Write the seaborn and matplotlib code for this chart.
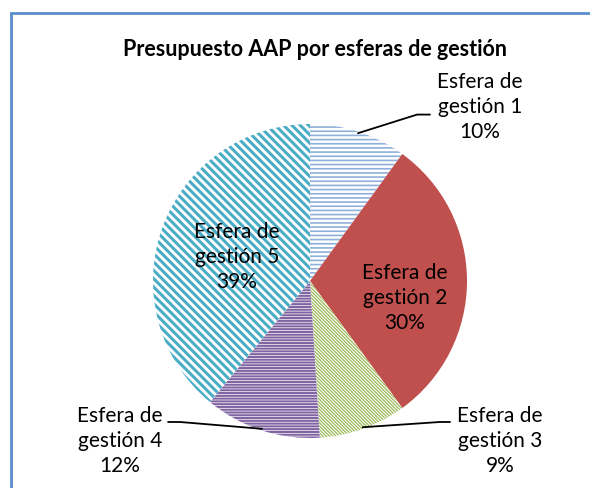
import numpy as np
import seaborn as sns
import matplotlib.pyplot as plt
from matplotlib.patches import Rectangle

labels = ['Esfera de\ngestión 1', 'Esfera de\ngestión 2', 'Esfera de\ngestión 3',
          'Esfera de\ngestión 4', 'Esfera de\ngestión 5']
shares = [10, 30, 9, 12, 39]
colors = ['#8FB0DA', '#C0504D', '#9BBB59', '#8064A2', '#4BACC6']
faces = ['white', '#C0504D', 'white', 'white', 'white']
hatches = ['----', None, '\\' * 10, '-' * 6, '\\' * 4]
hatch_lw = [1.2, 1.0, 0.9, 1.5, 2.2]
title = 'Presupuesto AAP por esferas de gestión'

sns.set_style('white')
plt.rcParams['font.family'] = ['Lato', 'DejaVu Sans']
plt.rcParams['hatch.linewidth'] = 1.3

fig = plt.figure(figsize=(5.9, 4.88), dpi=100)
ax = fig.add_axes([0, 0, 1, 1])

wedges, _ = ax.pie(shares, startangle=90, counterclock=False, colors=faces,
                   wedgeprops=dict(linewidth=0))
for w, c, h, lw in zip(wedges, colors, hatches, hatch_lw):
    w.set_edgecolor(c)
    if h:
        w.set_hatch(h)
        if hasattr(w, 'set_hatch_linewidth'):
            w.set_hatch_linewidth(lw)

# pie centre at (310, 281) px, radius 157 px
ax.set_xlim(-310 / 157, 280 / 157)
ax.set_ylim(-207 / 157, 281 / 157)
ax.set_aspect('auto')
ax.axis('off')

# label positions (inside for 2 and 5, outside with leader for others)
label_pos = [(1.083, 1.108), (0.605, -0.108), (1.21, -1.019), (-1.21, -1.019), (-0.465, 0.153)]
elbows = {0: [(0.682, 1.060), (0.764, 1.060)],
          2: [(0.828, -0.898), (0.892, -0.898)],
          3: [(-0.828, -0.898), (-0.904, -0.898)]}

for i, (w, lab, s) in enumerate(zip(wedges, labels, shares)):
    x, y = label_pos[i]
    ax.text(x, y, f'{lab}\n{s}%', ha='center', va='center', fontsize=15,
            linespacing=1.3, color='black')
    if i in elbows:
        mid = np.deg2rad((w.theta1 + w.theta2) / 2)
        pts = [(0.99 * np.cos(mid), 0.99 * np.sin(mid))] + elbows[i]
        xs, ys = zip(*pts)
        ax.plot(xs, ys, color='black', lw=1.3)

fig.text(315 / 590, 1 - 50 / 488, title, ha='center', va='center',
         fontsize=15.5, fontweight='bold', color='black')

fig.patches.append(Rectangle((10.5 / 590, -0.1), 1.2, 1.1 - 13.5 / 488,
                             transform=fig.transFigure, fill=False,
                             edgecolor='#5B8CCB', linewidth=2))

fig.savefig('out.png', dpi=100)
